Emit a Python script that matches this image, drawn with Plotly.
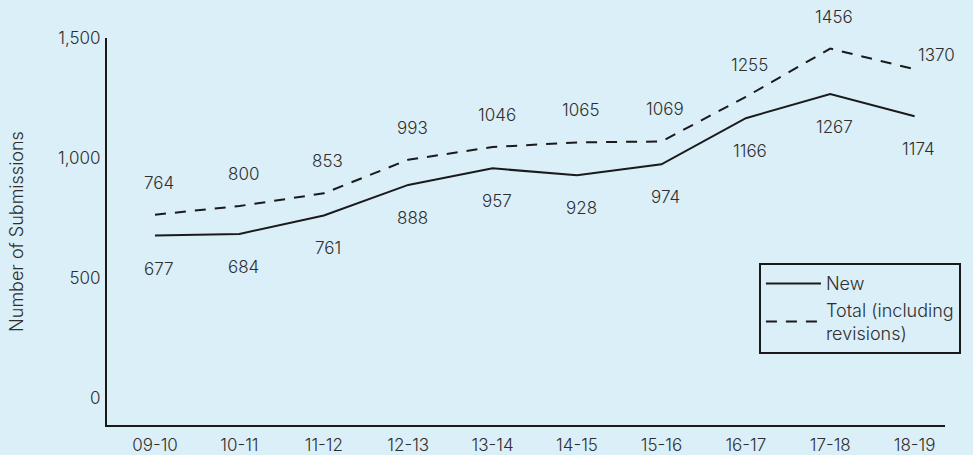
import plotly.graph_objects as go

categories = ["09-10", "10-11", "11-12", "12-13", "13-14", "14-15", "15-16", "16-17", "17-18", "18-19"]
new_vals = [677, 684, 761, 888, 957, 928, 974, 1166, 1267, 1174]
total_vals = [764, 800, 853, 993, 1046, 1065, 1069, 1255, 1456, 1370]
y_ticks = [0, 500, 1000, 1500]
y_tick_labels = ["0", "500", "1,000", "1,500"]

x = list(range(len(categories)))
BG = "#dbeff8"
TXT = "#2e2e2e"
FONT = "Inter, Open Sans, sans-serif"
W = 300

fig = go.Figure()
fig.add_trace(go.Scatter(x=x, y=new_vals, mode="lines", name="New",
                         line=dict(color="#1a1a1a", width=2)))
fig.add_trace(go.Scatter(x=x, y=total_vals, mode="lines", name="Total (including<br>revisions)",
                         line=dict(color="#1a1a1a", width=2, dash="11px,9px")))

annotations = []
for i, v in enumerate(new_vals):
    annotations.append(dict(x=x[i], y=v, text=str(v), showarrow=False, yshift=-33, xshift=4,
                            font=dict(size=17, color=TXT, family=FONT, weight=W)))
for i, v in enumerate(total_vals):
    last = i == len(total_vals) - 1
    annotations.append(dict(x=x[i], y=v, text=str(v), showarrow=False,
                            yshift=14 if last else 32, xshift=22 if last else 4,
                            font=dict(size=17, color=TXT, family=FONT, weight=W)))

fig.update_layout(
    width=973, height=455,
    margin=dict(l=107, r=28, t=38, b=30),
    paper_bgcolor=BG, plot_bgcolor=BG,
    font=dict(family=FONT, color=TXT, size=16, weight=W),
    annotations=annotations,
    showlegend=True,
    legend=dict(x=1.019, xanchor="right", y=0.418, yanchor="top",
                bgcolor="rgba(0,0,0,0)", bordercolor="#1a1a1a", borderwidth=2,
                itemwidth=55,
                font=dict(size=18, color=TXT, family=FONT, weight=W), tracegroupgap=0),
    xaxis=dict(range=[-0.569, 9.36], tickvals=x, ticktext=categories, showgrid=False,
               zeroline=False, showline=True, linecolor="#1a1a1a", linewidth=2,
               ticks="", tickfont=dict(size=17, color=TXT, family=FONT, weight=W), ticklabelstandoff=4,
               automargin=False),
    yaxis=dict(range=[-112, 1500], tickvals=y_ticks, ticktext=y_tick_labels, showgrid=False,
               zeroline=False, showline=True, linecolor="#1a1a1a", linewidth=2,
               ticks="", tickfont=dict(size=17, color=TXT, family=FONT, weight=W), ticklabelstandoff=1,
               automargin=False,
               title=dict(text="Number of Submissions",
                          font=dict(size=18, color=TXT, family=FONT, weight=W), standoff=30)),
)

fig.write_html("out.html")
